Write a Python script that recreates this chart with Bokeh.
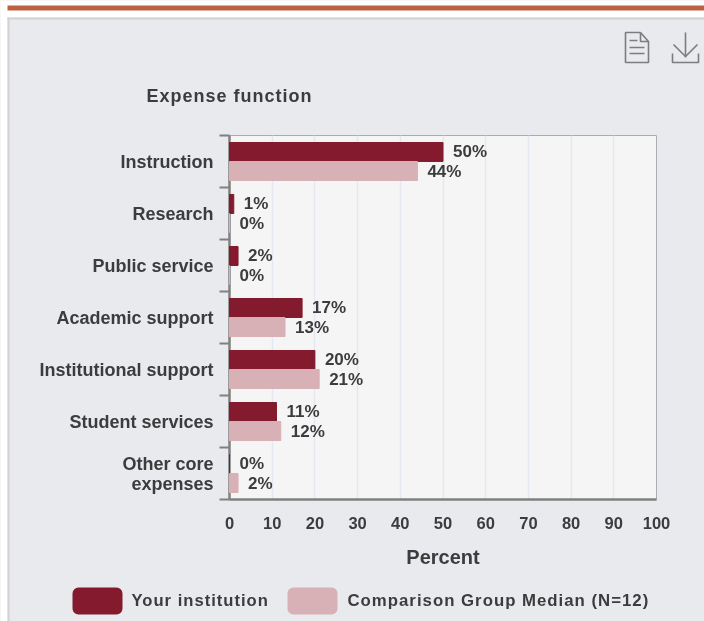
from bokeh.plotting import figure
from bokeh.embed import file_html
from bokeh.resources import INLINE
from bokeh.models import BoxAnnotation, FixedTicker, Range1d, ColumnDataSource
from bokeh.core.properties import value

categories = ["Instruction", "Research", "Public service", "Academic support",
              "Institutional support", "Student services", "Other core\nexpenses"]
your_institution = [50, 1, 2, 17, 20, 11, 0]
comparison_median = [44, 0, 0, 13, 21, 12, 2]
x_ticks = list(range(0, 101, 10))
series_names = ["Your institution", "Comparison Group Median (N=12)"]
chart_title = "Expense function"

W, H = 704, 621
FONT = "Liberation Sans"
DARK, LIGHT, TEXT, PANEL = "#831a2d", "#d8b1b7", "#3c3c3c", "#e9eaee"

# ---- backdrop layer: page chrome, title, legend, icons (axes in window pixels)
bg = figure(width=W, height=H, output_backend="svg", toolbar_location=None,
            x_range=Range1d(0, W), y_range=Range1d(H, 0),
            x_axis_location=None, y_axis_location=None,
            min_border=0, outline_line_color=None, background_fill_color=PANEL, border_fill_color=None)
bg.grid.visible = False
bg.styles = {"position": "fixed", "left": "0px", "top": "0px", "letter-spacing": "1px"}

def box(l, t, r, b, color, radius=0):
    bg.add_layout(BoxAnnotation(left=l, right=r, top=t, bottom=b, fill_color=color, fill_alpha=1,
                                line_color=None, border_radius=radius, editable=False))

def label(x, y, text, size):
    bg.text(x=[x], y=[y], text=[text], text_baseline="middle", text_font=value(FONT),
            text_font_style="bold", text_font_size=size, text_color=TEXT)

def stroke(points):
    bg.line([a for a, _ in points], [b for _, b in points], line_color="#7d7d7d", line_width=1.6)

box(0, 0, W, 17, "#ffffff")
box(0, 0, 7, H, "#ffffff")
box(7, 5, W, 10, "#bb6040")
box(7, 17, W, 19, "#d2d2d2")
box(7, 17, 9, H, "#d2d2d2")

label(146, 95, chart_title, "18px")

box(72, 587, 122, 614, DARK, 6)
label(131, 599.5, series_names[0], "16.6px")
box(287, 587, 337, 614, LIGHT, 6)
label(347, 599.5, series_names[1], "16.8px")

stroke([(640, 32), (625, 32), (625, 62), (648, 62), (648, 41), (640, 32), (640, 41), (648, 41)])
stroke([(629, 40), (637, 40)])
stroke([(629, 47), (644, 47)])
stroke([(629, 53), (644, 53)])
stroke([(685, 32), (685, 57)])
stroke([(673, 44), (685, 56), (697, 44)])
stroke([(672, 53), (672, 62), (698, 62), (698, 53)])

# ---- chart layer
p = figure(width=W, height=H, output_backend="svg", toolbar_location=None,
           x_range=Range1d(0, 100), y_range=Range1d(len(categories), 0),
           min_border_left=229, min_border_right=48, min_border_top=135, min_border_bottom=122,
           border_fill_color=None, background_fill_color="#f5f5f5",
           outline_line_color="#a9acb3", outline_line_width=1)
p.styles = {"position": "fixed", "left": "0px", "top": "0px"}

p.xgrid.ticker = FixedTicker(ticks=x_ticks)
p.xgrid.grid_line_color = "#e3e8f3"
p.xgrid.grid_line_width = 1.5
p.ygrid.visible = False

centers = [i + 0.5 for i in range(len(categories))]
edges = list(range(len(categories) + 1))

ax = p.xaxis[0]
ax.ticker = FixedTicker(ticks=x_ticks)
ax.axis_label = "Percent"
ax.axis_label_text_font = FONT
ax.axis_label_text_font_style = "bold"
ax.axis_label_text_font_size = "20px"
ax.axis_label_text_color = TEXT
ax.axis_label_standoff = 14
ax.major_label_text_font = FONT
ax.major_label_text_font_style = "bold"
ax.major_label_text_font_size = "16.5px"
ax.major_label_text_color = TEXT
ax.major_label_standoff = 11
ax.major_tick_line_color = None
ax.minor_tick_line_color = None
ax.axis_line_color = "#808080"
ax.axis_line_width = 2.5

ay = p.yaxis[0]
ay.ticker = FixedTicker(ticks=centers, minor_ticks=edges)
ay.major_label_overrides = {c: n for c, n in zip(centers, categories)}
ay.major_label_text_font = FONT
ay.major_label_text_font_style = "bold"
ay.major_label_text_font_size = "18px"
ay.major_label_text_line_height = 1.0
ay.major_label_text_color = TEXT
ay.major_label_standoff = 6
ay.major_tick_line_color = None
ay.major_tick_in = 0
ay.major_tick_out = 0
ay.minor_tick_line_color = "#808080"
ay.minor_tick_line_width = 2
ay.minor_tick_in = 0
ay.minor_tick_out = 10
ay.axis_line_color = "#808080"
ay.axis_line_width = 2.5

BAR = 0.365
OFF = 0.183
for vals, color, off in ((your_institution, DARK, -OFF), (comparison_median, LIGHT, OFF)):
    ys = [c + off for c in centers]
    src = ColumnDataSource(dict(y=ys, v=vals, t=[f"{v}%" for v in vals]))
    p.hbar(y="y", right="v", left=0, height=BAR, color=color, source=src, level="annotation")
    p.text(x="v", y="y", text="t", source=src, x_offset=10, text_baseline="middle",
           text_font=value(FONT), text_font_style="bold", text_font_size="17px",
           text_color=TEXT, level="annotation")

open("out.html", "w").write(file_html([bg, p], INLINE))
